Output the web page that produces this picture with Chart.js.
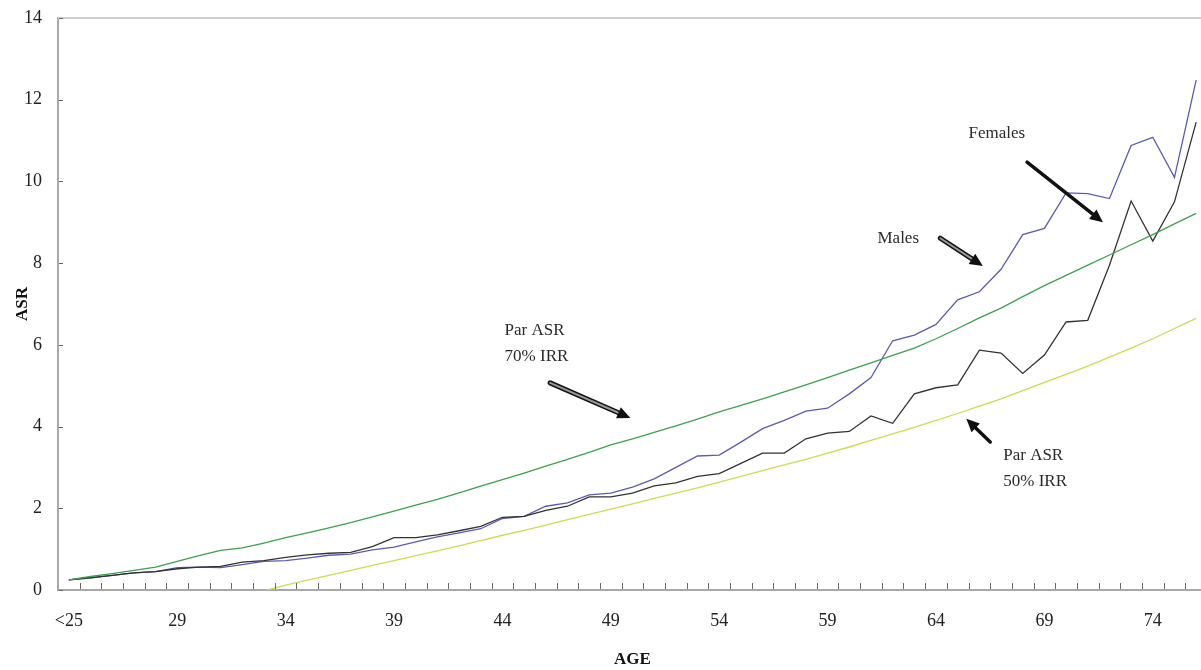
<!DOCTYPE html>
<html>
<head>
<meta charset="utf-8">
<script src="https://cdn.jsdelivr.net/npm/chart.js@4.4.0/dist/chart.umd.min.js"></script>
<style>
    html, body { margin: 0; padding: 0; background: #fff; overflow: hidden; }
    canvas { display: block; }
</style>
</head>
<body>
<canvas id="asrplot" width="1207" height="670"></canvas>
<script>
// age categories (every 5th one gets a label)
var ageLabels = ['<25', '25', '26', '27', '28', '29', '30', '31', '32', '33', '34', '35', '36', '37', '38', '39',
    '40', '41', '42', '43', '44', '45', '46', '47', '48', '49', '50', '51', '52', '53', '54', '55', '56', '57',
    '58', '59', '60', '61', '62', '63', '64', '65', '66', '67', '68', '69', '70', '71', '72', '73', '74', '75', '76'];

var males = [0.25, 0.30, 0.36, 0.42, 0.45, 0.55, 0.56, 0.55, 0.62, 0.70, 0.72, 0.78, 0.85, 0.88, 0.98, 1.05,
    1.18, 1.30, 1.40, 1.50, 1.75, 1.80, 2.05, 2.13, 2.33, 2.37, 2.52, 2.72, 3.00, 3.28, 3.30, 3.62, 3.95, 4.15,
    4.38, 4.45, 4.80, 5.20, 6.10, 6.24, 6.50, 7.10, 7.30, 7.85, 8.70, 8.85, 9.72, 9.70, 9.58, 10.88, 11.08, 10.10, 12.48];

var females = [0.25, 0.30, 0.36, 0.42, 0.45, 0.52, 0.56, 0.58, 0.68, 0.72, 0.80, 0.86, 0.90, 0.92, 1.06, 1.28,
    1.28, 1.35, 1.45, 1.56, 1.78, 1.80, 1.95, 2.05, 2.28, 2.28, 2.37, 2.55, 2.62, 2.78, 2.85, 3.10, 3.35, 3.35,
    3.70, 3.84, 3.88, 4.26, 4.08, 4.80, 4.95, 5.02, 5.87, 5.80, 5.30, 5.75, 6.56, 6.60, 7.95, 9.52, 8.54, 9.50, 11.45];

var par70 = [0.25, 0.33, 0.40, 0.48, 0.56, 0.70, 0.84, 0.97, 1.03, 1.15, 1.28, 1.40, 1.52, 1.65, 1.79, 1.93,
    2.08, 2.22, 2.38, 2.54, 2.70, 2.86, 3.03, 3.20, 3.37, 3.55, 3.70, 3.86, 4.02, 4.18, 4.36, 4.52, 4.68, 4.85,
    5.02, 5.20, 5.38, 5.56, 5.74, 5.92, 6.15, 6.40, 6.66, 6.90, 7.18, 7.45, 7.70, 7.95, 8.20, 8.45, 8.70, 8.96, 9.22];

var par50 = [-0.95, -0.85, -0.75, -0.65, -0.55, -0.45, -0.34, -0.23, -0.12, -0.02, 0.12, 0.24, 0.36, 0.48, 0.60, 0.72,
    0.84, 0.96, 1.08, 1.21, 1.34, 1.46, 1.59, 1.72, 1.85, 1.98, 2.11, 2.24, 2.37, 2.50, 2.64, 2.78, 2.92, 3.06,
    3.20, 3.35, 3.50, 3.66, 3.82, 3.98, 4.15, 4.32, 4.50, 4.68, 4.88, 5.08, 5.28, 5.48, 5.70, 5.92, 6.15, 6.40, 6.65];

var yTicks = [0, 2, 4, 6, 8, 10, 12, 14];

// text notes and arrows, placed in data units (category index, ASR)
var notes = [
    { lines: ['Par ASR', '70% IRR'], at: [20.1, 6.36] },
    { lines: ['Males'], at: [37.3, 8.61] },
    { lines: ['Females'], at: [41.5, 11.18] },
    { lines: ['Par ASR', '50% IRR'], at: [43.1, 3.30] }
];
var arrows = [
    { from: [22.2, 5.07], to: [25.9, 4.21], hollow: true },
    { from: [40.2, 8.61], to: [42.16, 7.93], hollow: true },
    { from: [44.2, 10.47], to: [47.7, 9.0], hollow: false },
    { from: [42.5, 3.62], to: [41.4, 4.19], hollow: false }
];

var serif = "'Liberation Serif', 'Times New Roman', serif";

function drawArrow(ctx, x1, y1, x2, y2, hollow) {
    var ang = Math.atan2(y2 - y1, x2 - x1);
    var head = 13, half = 6;
    var bx = x2 - head * Math.cos(ang), by = y2 - head * Math.sin(ang);
    ctx.lineCap = 'round';
    ctx.strokeStyle = '#111';
    ctx.lineWidth = hollow ? 5 : 3.5;
    ctx.beginPath(); ctx.moveTo(x1, y1); ctx.lineTo(bx, by); ctx.stroke();
    if (hollow) {
        ctx.strokeStyle = '#999';
        ctx.lineWidth = 2;
        ctx.beginPath(); ctx.moveTo(x1, y1); ctx.lineTo(bx, by); ctx.stroke();
    }
    ctx.fillStyle = '#111';
    ctx.beginPath();
    ctx.moveTo(x2, y2);
    ctx.lineTo(bx + half * Math.sin(ang), by - half * Math.cos(ang));
    ctx.lineTo(bx - half * Math.sin(ang), by + half * Math.cos(ang));
    ctx.closePath();
    ctx.fill();
}

var extras = {
    id: 'extras',
    afterDraw: function (chart) {
        var ctx = chart.ctx, xs = chart.scales.x, ys = chart.scales.y, area = chart.chartArea;
        ctx.save();
        // top frame line
        ctx.strokeStyle = '#cfcfcf';
        ctx.lineWidth = 2;
        ctx.beginPath(); ctx.moveTo(area.left, area.top); ctx.lineTo(area.right, area.top); ctx.stroke();
        // inward tick marks
        ctx.strokeStyle = '#666';
        ctx.lineWidth = 1;
        ctx.beginPath();
        for (var i = 1; i < ageLabels.length; i++) {
            var px = Math.round(xs.getPixelForValue(i - 0.5)) + 0.5;
            ctx.moveTo(px, area.bottom - 1); ctx.lineTo(px, area.bottom - 7);
        }
        yTicks.forEach(function (t) {
            var py = Math.round(ys.getPixelForValue(t)) + 0.5;
            ctx.moveTo(area.left + 1, py); ctx.lineTo(area.left + 5, py);
        });
        ctx.stroke();
        // notes
        ctx.fillStyle = '#2a2a2a';
        ctx.font = '17px ' + serif;
        ctx.textAlign = 'left';
        ctx.textBaseline = 'middle';
        notes.forEach(function (n) {
            var x = xs.getPixelForValue(n.at[0]), y = ys.getPixelForValue(n.at[1]);
            n.lines.forEach(function (s, k) { ctx.fillText(s, x, y + k * 26); });
        });
        arrows.forEach(function (a) {
            drawArrow(ctx, xs.getPixelForValue(a.from[0]), ys.getPixelForValue(a.from[1]),
                xs.getPixelForValue(a.to[0]), ys.getPixelForValue(a.to[1]), a.hollow);
        });
        ctx.restore();
    }
};

function makeLine(label, data, color) {
    return {
        label: label,
        data: data,
        borderColor: color,
        borderWidth: 1.3,
        pointRadius: 0,
        tension: 0,
        fill: false
    };
}

var ctx = document.getElementById('asrplot').getContext('2d');
var asrChart = new Chart(ctx, {
    type: 'line',
    data: {
        labels: ageLabels,
        datasets: [
            makeLine('Par ASR 50% IRR', par50, '#cbdc55'),
            makeLine('Par ASR 70% IRR', par70, '#3f9f52'),
            makeLine('Females', females, '#333333'),
            makeLine('Males', males, '#5c5cae')
        ]
    },
    options: {
        responsive: false,
        animation: false,
        layout: { padding: { top: 18, left: 0, right: 0, bottom: 0 } },
        plugins: {
            legend: { display: false },
            tooltip: { enabled: false }
        },
        scales: {
            x: {
                offset: true,
                grid: { display: false, drawTicks: false },
                border: { display: true, color: '#a8a8a8', width: 2 },
                ticks: {
                    autoSkip: false,
                    maxRotation: 0,
                    padding: 20,
                    color: '#222',
                    font: { family: serif, size: 18 },
                    callback: function (value, index) {
                        return index % 5 === 0 ? ageLabels[index] : '';
                    }
                },
                title: {
                    display: true,
                    text: 'AGE',
                    color: '#111',
                    font: { family: serif, size: 17, weight: 'bold' },
                    padding: { top: 0, bottom: 0 }
                },
                afterFit: function (scale) {
                    scale.height = 80;
                    scale.paddingLeft = 0;
                    scale.paddingRight = 0;
                }
            },
            y: {
                min: 0,
                max: 14,
                grid: { display: false, drawTicks: false },
                border: { display: true, color: '#a8a8a8', width: 2 },
                afterBuildTicks: function (scale) {
                    scale.ticks = yTicks.map(function (v) { return { value: v }; });
                },
                ticks: {
                    padding: 16,
                    color: '#222',
                    font: { family: serif, size: 18 }
                },
                title: {
                    display: true,
                    text: 'ASR',
                    color: '#111',
                    font: { family: serif, size: 17, weight: 'bold' },
                    padding: { top: 12, bottom: 0 }
                },
                afterFit: function (scale) {
                    scale.width = 58;
                    scale.paddingTop = 0;
                    scale.paddingBottom = 0;
                }
            }
        }
    },
    plugins: [extras]
});
</script>
</body>
</html>
